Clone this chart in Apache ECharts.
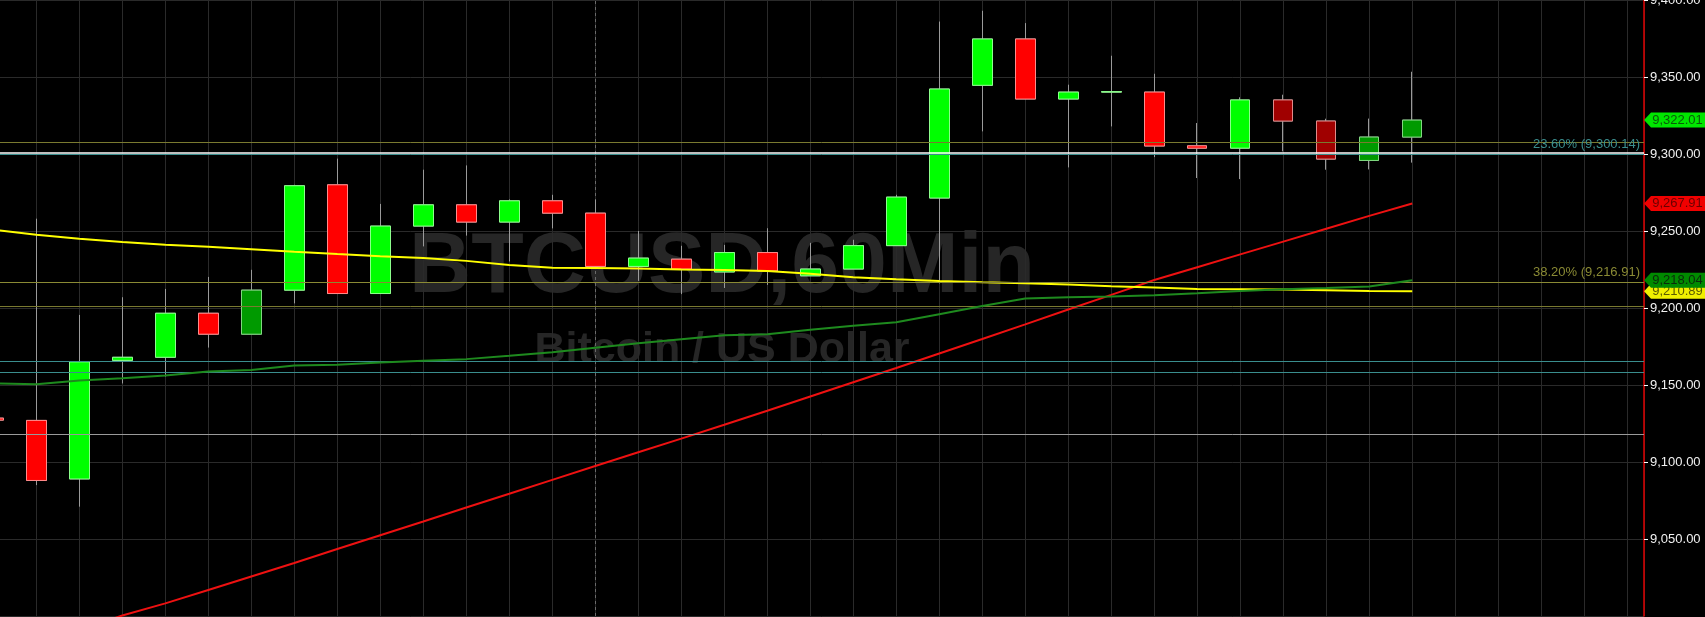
<!DOCTYPE html>
<html>
<head>
<meta charset="utf-8">
<script src="https://cdn.jsdelivr.net/npm/echarts@6/dist/echarts.min.js"></script>
<style>
html,body{margin:0;padding:0;background:#000;}
#c{width:1705px;height:617px;}
</style>
</head>
<body>
<div id="c"></div>
<script>
// ---- data (hourly bars, index 0 = partially visible first bar) ----
const slots  = [0,1,2,3,4,5,6,7,8,9,10,11,12,13,14,15,16,17,18,19,20,21,22,23,24,25,26,27,28,29,30,31,32,33];
const opens  = [9128.5,9127.0,9089.0,9166.0,9168.0,9196.6,9183.0,9211.6,9280.0,9209.4,9253.2,9267.0,9255.8,9269.6,9261.6,9227.0,9231.7,9223.4,9236.0,9220.9,9225.3,9240.5,9271.4,9344.6,9374.7,9335.7,9340.2,9340.2,9305.3,9303.8,9335.1,9321.4,9295.8,9311.0];
const closes = [9127.2,9088.0,9165.0,9168.0,9196.6,9183.0,9211.6,9279.4,9209.4,9253.2,9267.0,9255.8,9269.6,9261.6,9227.0,9232.4,9225.3,9236.0,9224.1,9225.3,9240.5,9272.0,9342.2,9374.7,9335.7,9340.2,9340.5,9305.2,9303.8,9335.1,9321.4,9296.7,9311.0,9322.01];
const lows   = [9126.5,9085.0,9071.0,9151.0,9155.5,9174.3,9183.0,9203.0,9209.4,9209.4,9240.0,9247.0,9230.2,9251.7,9226.0,9217.6,9209.0,9213.0,9215.0,9220.9,9225.3,9240.5,9216.0,9314.7,9335.7,9291.3,9317.9,9298.0,9284.4,9283.7,9301.7,9289.8,9290.0,9294.4];
const highs  = [9129.5,9258.0,9195.5,9207.0,9212.4,9220.2,9224.8,9280.0,9297.0,9267.6,9289.8,9292.6,9270.5,9273.5,9270.3,9250.0,9240.4,9241.0,9251.8,9242.3,9244.3,9273.5,9386.0,9393.0,9385.0,9345.0,9363.8,9352.1,9320.1,9336.8,9338.5,9322.9,9323.0,9353.4];
const darkCandles = [6,30,31,32,33];

const maYellow = [9250.8,9247.5,9244.9,9242.9,9241.0,9239.7,9238.2,9236.5,9235.0,9233.6,9232.4,9230.6,9228.0,9226.1,9226.0,9225.6,9225.0,9224.6,9224.1,9222.2,9220.0,9218.7,9217.6,9216.8,9216.1,9215.2,9214.2,9213.3,9212.4,9212.2,9212.0,9211.6,9211.1,9210.89];
const maGreen  = [9151.0,9150.5,9152.9,9154.4,9156.1,9158.7,9159.8,9162.6,9163.1,9164.6,9165.7,9166.8,9169.0,9171.3,9174.2,9177.1,9179.7,9182.3,9183.0,9185.8,9188.4,9190.7,9196.0,9201.3,9206.2,9207.0,9207.4,9208.3,9209.6,9211.0,9212.2,9213.0,9213.9,9218.04];
const maRed    = [null,null,8990.9,9000.3,9008.2,9016.9,9025.6,9034.4,9043.5,9052.4,9061.4,9070.5,9079.4,9088.4,9097.4,9106.3,9115.2,9124.2,9133.3,9142.5,9151.8,9161.0,9170.5,9179.9,9189.4,9199.0,9208.5,9218.2,9226.5,9234.8,9243.1,9251.5,9259.8,9267.91];

const fibNames  = ['23.60%','38.20%'];
const fibValues = [9300.14, 9216.91];
const levelValues = [9307.7, 9301.0, 9200.9, 9165.5, 9158.5, 9118.0];
const levelKinds  = ['olive','white','olive','teal','teal','gray'];
const sessionBreak = 14;
const priceMin = 9000, priceMax = 9400, priceStep = 50;
const slotMax = 38.39;
const symbolText = 'BTCUSD,60Min';
const symbolDesc = 'Bitcoin / US Dollar';

// ---- styling ----
const FONT = 'Liberation Sans, Arial, sans-serif';
const kindColor = {olive:'#7a7a30', white:'#ffffff', teal:'#3a8e8e', gray:'#9a9a9a'};
const fibColors = ['#3a8e8e', '#8a8a34'];
const fmt = v => v.toLocaleString('en-US', {minimumFractionDigits:2, maximumFractionDigits:2});
const last = slots.length - 1;

function candleStyle(i){
  const up = closes[i] >= opens[i];
  const dark = darkCandles.indexOf(i) >= 0;
  let fill, border;
  if (up) { fill = dark ? '#009a00' : '#00ff00'; border = dark ? '#80d880' : '#8cff8c'; }
  else    { fill = dark ? '#a00000' : '#ff0000'; border = dark ? '#e08a8a' : '#ff8a8a'; }
  return {color: fill, color0: fill, borderColor: border, borderColor0: border, borderWidth: 1};
}

const tagPath = 'path://M0,8L7,0L61,0L61,16L7,16Z';
function tag(value, bg, fg){
  return {
    coord: [slotMax, value], value: value,
    symbol: tagPath, symbolSize: [61, 15], symbolOffset: [30.5, 0],
    itemStyle: {color: bg},
    label: {show: true, position: 'inside', offset: [3, 0], color: fg, fontSize: 13, fontFamily: FONT,
            formatter: p => fmt(p.value)}
  };
}

const levelLines = levelValues.map((v, k) => ({
  yAxis: v, lineStyle: {color: kindColor[levelKinds[k]], width: levelKinds[k] === 'white' ? 1.5 : 1, type: 'solid'},
  label: {show: false}
}));
const fibLines = fibValues.map((v, k) => ({
  yAxis: v, lineStyle: {color: fibColors[k], width: 1, type: 'solid'},
  label: {show: true, position: 'insideEndTop', distance: [4, 3], color: fibColors[k], fontSize: 13, fontFamily: FONT,
          formatter: fibNames[k] + ' (' + fmt(v) + ')'}
}));

const chart = echarts.init(document.getElementById('c'), null, {renderer: 'canvas'});
chart.setOption({
  backgroundColor: '#000000',
  animation: false,
  textStyle: {fontFamily: FONT},
  graphic: [
    {type: 'text', x: 722, y: 268, z: -10, silent: true,
     style: {text: symbolText, fontSize: 86, fontWeight: 'bold', fontFamily: FONT, fill: '#262626', align: 'center', verticalAlign: 'middle'}},
    {type: 'text', x: 722, y: 350, z: -10, silent: true,
     style: {text: symbolDesc, fontSize: 43, fontWeight: 'bold', fontFamily: FONT, fill: '#262626', align: 'center', verticalAlign: 'middle'}}
  ],
  grid: {left: -6.7, right: 61, top: 0, bottom: 1, containLabel: false, outerBoundsMode: 'none'},
  xAxis: {
    type: 'value', min: 0, max: slotMax, interval: 1,
    axisLine: {show: false}, axisTick: {show: false}, axisLabel: {show: false},
    splitLine: {show: true, lineStyle: {color: '#2a2a2a', width: 1}}
  },
  yAxis: {
    type: 'value', position: 'right', min: priceMin, max: priceMax, interval: priceStep,
    axisLine: {show: true, onZero: false, lineStyle: {color: '#e00000', width: 1.5}},
    axisTick: {show: true, length: 4, lineStyle: {color: '#ffffff'}},
    axisLabel: {show: true, color: '#f0f0f0', fontSize: 13, margin: 6, fontFamily: FONT,
                showMinLabel: false, showMaxLabel: true, formatter: v => fmt(v)},
    splitLine: {show: true, lineStyle: {color: '#2a2a2a', width: 1}}
  },
  series: [
    {
      type: 'candlestick', name: 'wicks', z: 2, barWidth: 20,
      encode: {x: 0, y: [1, 2, 3, 4]},
      data: slots.map(i => [i, opens[i], closes[i], lows[i], highs[i]]),
      itemStyle: {color: '#9a9a9a', color0: '#9a9a9a', borderColor: '#9a9a9a', borderColor0: '#9a9a9a', borderWidth: 1},
      markLine: {silent: true, z: 1, symbol: ['none', 'none'], animation: false,
        data: [{xAxis: sessionBreak, lineStyle: {color: '#6a6a6a', width: 1, type: [3, 3]}, label: {show: false}}]}
    },
    {
      type: 'candlestick', name: 'bodies', z: 3, barWidth: 20,
      encode: {x: 0, y: [1, 2, 3, 4]},
      data: slots.map(i => ({
        value: [i, opens[i], closes[i], Math.min(opens[i], closes[i]), Math.max(opens[i], closes[i])],
        itemStyle: candleStyle(i)
      })),
      markPoint: {silent: true, animation: false, data: [tag(closes[last], '#00e600', '#0a5a0a')]}
    },
    {
      type: 'line', name: 'red', z: 4, showSymbol: false, symbol: 'none',
      data: slots.map(i => [i, maRed[i]]),
      lineStyle: {color: '#ee1111', width: 2},
      markPoint: {silent: true, animation: false, data: [tag(maRed[last], '#f00000', '#6a0000')]}
    },
    {
      type: 'line', name: 'yellow', z: 5, showSymbol: false, symbol: 'none',
      data: slots.map(i => [i, maYellow[i]]),
      lineStyle: {color: '#ffff00', width: 2},
      markLine: {silent: true, z: 6, symbol: ['none', 'none'], animation: false, data: levelLines.concat(fibLines)},
      markPoint: {silent: true, z: 7, animation: false, data: [tag(maYellow[last], '#f0f000', '#5a5a00')]}
    },
    {
      type: 'line', name: 'green', z: 6, showSymbol: false, symbol: 'none',
      data: slots.map(i => [i, maGreen[i]]),
      lineStyle: {color: '#1e8a1e', width: 2},
      markPoint: {silent: true, z: 8, animation: false, data: [tag(maGreen[last], '#008a00', '#0a2a0a')]}
    }
  ]
});
</script>
</body>
</html>
